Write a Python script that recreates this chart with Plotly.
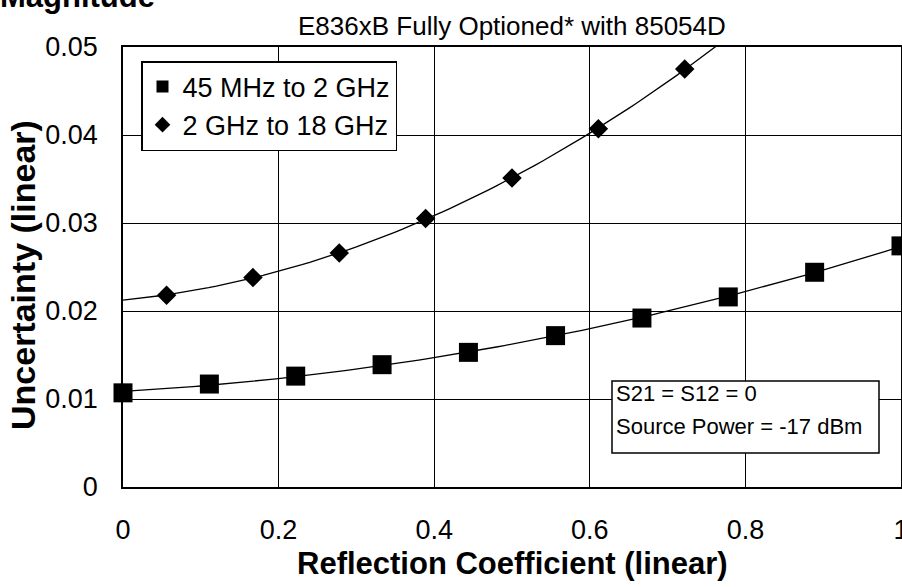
import numpy as np
import plotly.graph_objects as go

# Data
x_low = [0.0, 0.111, 0.222, 0.333, 0.444, 0.556, 0.667, 0.778, 0.889, 1.0]
y_low = [0.0107, 0.0117, 0.0126, 0.0139, 0.0153, 0.0172, 0.0192, 0.0216, 0.0244, 0.0274]
x_high = [0.056, 0.167, 0.278, 0.389, 0.5, 0.611, 0.722]
y_high = [0.0218, 0.0238, 0.0266, 0.0305, 0.0351, 0.0407, 0.0475]

series_names = ["45 MHz to 2 GHz", "2 GHz to 18 GHz"]
x_ticks = [0, 0.2, 0.4, 0.6, 0.8, 1]
x_ticktext = ["0", "0.2", "0.4", "0.6", "0.8", "1"]
y_ticks = [0, 0.01, 0.02, 0.03, 0.04, 0.05]
y_ticktext = ["0", "0.01", "0.02", "0.03", "0.04", "0.05"]

FONT = "Liberation Sans, Arial, sans-serif"

# trend lines (polynomial fits, as in the original spreadsheet chart)
c_low = np.polyfit(x_low, y_low, 2)
c_high = np.polyfit(x_high, y_high, 2)
xt_low = np.linspace(0, 1, 101)
xt_high = np.linspace(0, 0.8, 81)

fig = go.Figure()
fig.add_trace(go.Scatter(x=xt_low, y=np.polyval(c_low, xt_low), mode="lines",
                         line=dict(color="black", width=1.3), showlegend=False, hoverinfo="skip"))
fig.add_trace(go.Scatter(x=xt_high, y=np.polyval(c_high, xt_high), mode="lines",
                         line=dict(color="black", width=1.3), showlegend=False, hoverinfo="skip"))
fig.add_trace(go.Scatter(x=x_low, y=y_low, mode="markers", name=series_names[0], cliponaxis=False,
                         marker=dict(symbol="square", size=19, color="black")))
fig.add_trace(go.Scatter(x=x_high, y=y_high, mode="markers", name=series_names[1], cliponaxis=False,
                         marker=dict(symbol="diamond", size=15, color="black")))

L, R, T, B = 123, 1, 47, 100
W, H = 902, 587
pw, ph = W - L - R, H - T - B

def px(xp):
    return (xp - L) / pw

def py(yp):
    return (H - B - yp) / ph

fig.update_layout(
    width=W, height=H,
    margin=dict(l=L, r=R, t=T, b=B, pad=0, autoexpand=False),
    paper_bgcolor="white", plot_bgcolor="white",
    font=dict(family=FONT, size=20, color="black"),
    showlegend=True,
    legend=dict(x=px(141), y=py(61), xanchor="left", yanchor="top",
                bgcolor="white", bordercolor="black", borderwidth=1.5,
                font=dict(family=FONT, size=27, color="black"),
                itemsizing="constant", tracegroupgap=0),
    xaxis=dict(range=[0, 1], tickvals=x_ticks, ticktext=x_ticktext,
               showgrid=True, gridcolor="black", gridwidth=1.3,
               showline=True, linecolor="black", linewidth=1.5, mirror=True,
               zeroline=False, ticks="", ticklabelstandoff=18, automargin=False,
               ticklabeloverflow="allow",
               tickfont=dict(family=FONT, size=27)),
    yaxis=dict(range=[0, 0.05], tickvals=y_ticks, ticktext=y_ticktext,
               showgrid=True, gridcolor="black", gridwidth=1.3,
               showline=True, linecolor="black", linewidth=1.5, mirror=True,
               zeroline=False, ticks="", ticklabelstandoff=18, automargin=False,
               tickfont=dict(family=FONT, size=27)),
    shapes=[dict(type="rect", xref="paper", yref="paper",
                 x0=px(612), x1=px(879), y0=py(453), y1=py(381),
                 line=dict(color="black", width=1.5), fillcolor="white", layer="above")],
    annotations=[
        dict(text="E836xB Fully Optioned* with 85054D", xref="paper", yref="paper",
             x=px(512), y=py(26), xanchor="center", yanchor="middle", showarrow=False,
             font=dict(family=FONT, size=26)),
        dict(text="<b>Magnitude</b>", xref="paper", yref="paper",
             x=px(-2), y=py(16), xanchor="left", yanchor="bottom", showarrow=False,
             font=dict(family=FONT, size=31)),
        dict(text="<b>Reflection Coefficient (linear)</b>", xref="paper", yref="paper",
             x=px(512), y=py(563), xanchor="center", yanchor="middle", showarrow=False,
             font=dict(family=FONT, size=31)),
        dict(text="<b>Uncertainty (linear)</b>", xref="paper", yref="paper",
             x=px(23), y=py(275), xanchor="center", yanchor="middle", showarrow=False,
             textangle=-90, font=dict(family=FONT, size=34)),
        dict(text="S21 = S12 = 0", xref="paper", yref="paper",
             x=px(614), y=py(393), xanchor="left", yanchor="middle", showarrow=False,
             font=dict(family=FONT, size=22)),
        dict(text="Source Power = -17 dBm", xref="paper", yref="paper",
             x=px(614), y=py(426), xanchor="left", yanchor="middle", showarrow=False,
             font=dict(family=FONT, size=22)),
    ],
)

fig.write_html("out.html", config={"displayModeBar": False},
               post_script="document.body.style.margin='0px';document.body.style.overflow='hidden';")
